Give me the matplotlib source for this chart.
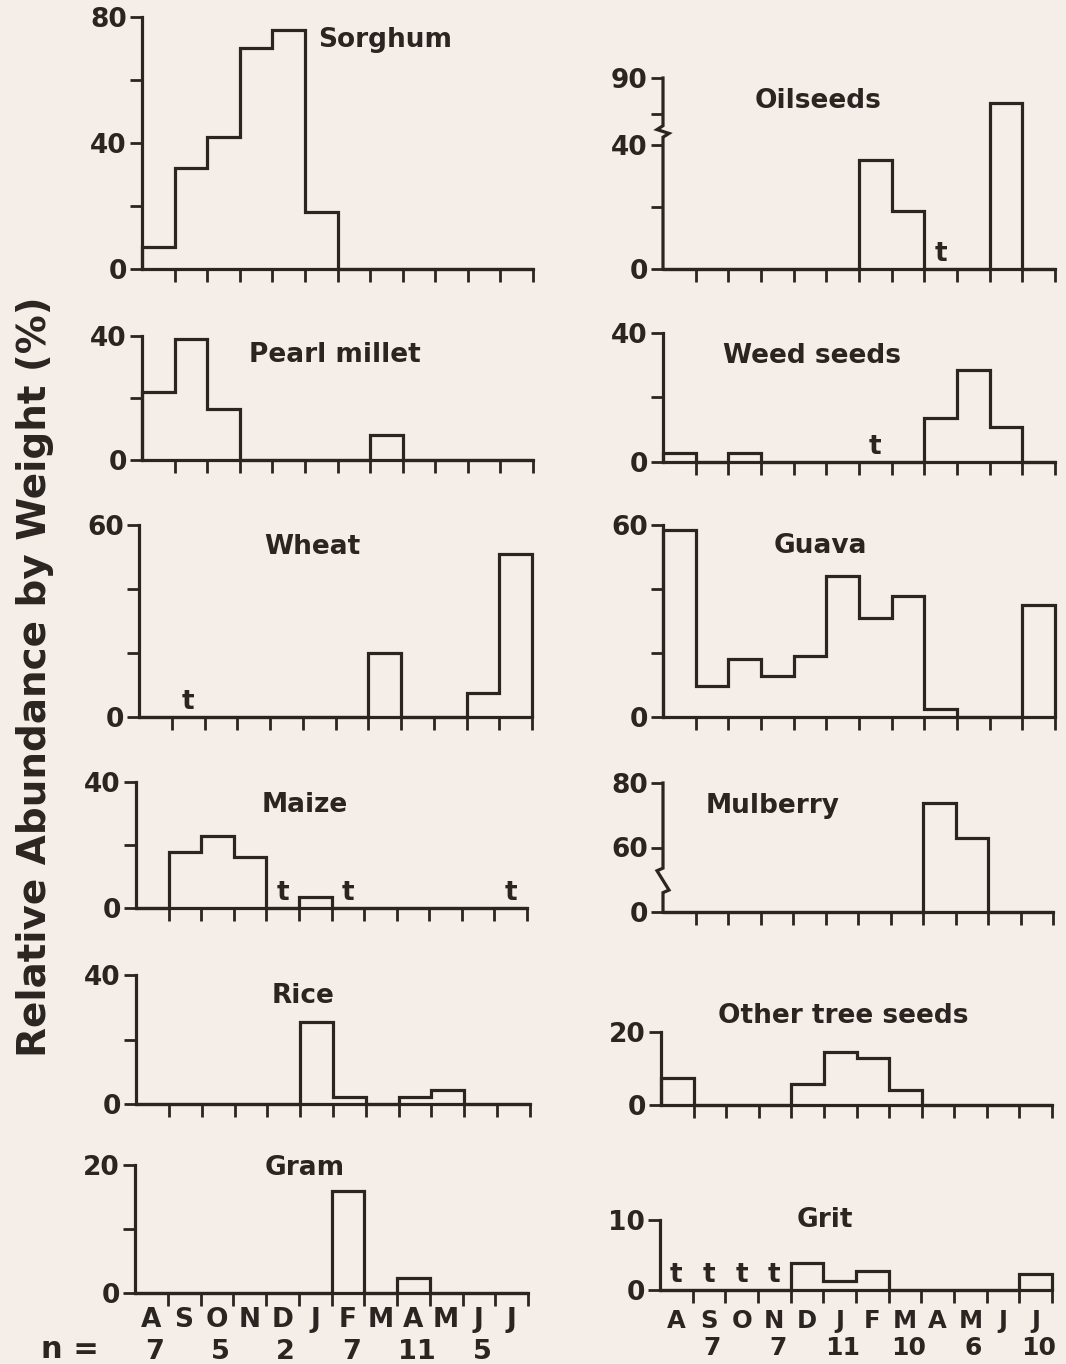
import numpy as np
import matplotlib.pyplot as plt
from matplotlib.transforms import offset_copy

W, H = 1066, 1364
BG = "#f4ede8"
INK = "#2b2522"

plt.rcParams["font.family"] = ["DejaVu Sans"]
plt.rcParams["font.weight"] = "bold"

# months from August to July
months = ["A", "S", "O", "N", "D", "J", "F", "M", "A", "M", "J", "J"]
n_left_pos = [0, 2, 4, 6, 8, 10]
n_left = ["7", "5", "2", "7", "11", "5"]
n_right_pos = [1, 3, 5, 7, 9, 11]
n_right = ["7", "7", "11", "10", "6", "10"]

# relative abundance by weight (%), one value per month
sorghum = [7, 32, 42, 70, 76, 18, 0, 0, 0, 0, 0, 0]
pearl_millet = [22, 39, 16.5, 0, 0, 0, 0, 8, 0, 0, 0, 0]
wheat = [0, 0, 0, 0, 0, 0, 0, 20, 0, 0, 7.5, 51]
maize = [0, 17.8, 22.9, 16.2, 0, 3.5, 0, 0, 0, 0, 0, 0]
rice = [0, 0, 0, 0, 0, 25.3, 2.2, 0, 2.2, 4.4, 0, 0]
gram = [0, 0, 0, 0, 0, 0, 16, 0, 2.3, 0, 0, 0]
oilseeds = [0, 0, 0, 0, 0, 0, 35, 18.7, 0, 0, 83, 0]
weed_seeds = [2.8, 0, 2.8, 0, 0, 0, 0, 0, 13.7, 28.4, 10.9, 0]
guava = [58.4, 9.7, 18.1, 12.8, 19, 44, 31, 37.8, 2.5, 0, 0, 35]
mulberry = [0, 0, 0, 0, 0, 0, 0, 0, 73.7, 63, 0, 0]
other_tree_seeds = [7.4, 0, 0, 0, 5.8, 14.5, 12.9, 4.1, 0, 0, 0, 0]
grit = [0, 0, 0, 0, 3.9, 1.3, 2.7, 0, 0, 0, 0, 2.3]

# months with trace amounts ("t")
wheat_t = [1]
maize_t = [4, 6, 11]
oilseeds_t = [8]
weed_seeds_t = [6]
grit_t = [0, 1, 2, 3]


# broken y axes
def oil_fwd(v):
    v = np.asarray(v, float)
    return np.where(v <= 40, v, np.where(v <= 80, 40 + (v - 40) / 4, 50 + (v - 80) * 1.15))


def oil_inv(d):
    d = np.asarray(d, float)
    return np.where(d <= 40, d, np.where(d <= 50, 40 + (d - 40) * 4, 80 + (d - 50) / 1.15))


def mul_fwd(v):
    v = np.asarray(v, float)
    return np.where(v <= 60, v / 3, 20 + (v - 60))


def mul_inv(d):
    d = np.asarray(d, float)
    return np.where(d <= 20, d * 3, 60 + (d - 20))


# name, values, traces, yticks, ytick labels, scale, break (axes frac), box px (x0, x1, ytop, ybot), title px
panels = [
    ("Sorghum", sorghum, [], [0, 20, 40, 60, 80], ["0", "", "40", "", "80"], None, None,
     (142, 533, 17, 269), (385, 40)),
    ("Pearl millet", pearl_millet, [], [0, 20, 40], ["0", "", "40"], None, None,
     (142, 533, 336, 460), (335, 355)),
    ("Wheat", wheat, wheat_t, [0, 20, 40, 60], ["0", "", "", "60"], None, None,
     (139, 532, 525, 717), (312, 547)),
    ("Maize", maize, maize_t, [0, 20, 40], ["0", "", "40"], None, None,
     (136, 527, 782, 908), (305, 805)),
    ("Rice", rice, [], [0, 20, 40], ["0", "", "40"], None, None,
     (136, 530, 975, 1104), (303, 996)),
    ("Gram", gram, [], [0, 10, 20], ["0", "", "20"], None, None,
     (135, 528, 1165, 1293), (305, 1168)),
    ("Oilseeds", oilseeds, oilseeds_t, [0, 20, 40, 80, 90], ["0", "", "40", "", "90"],
     (oil_fwd, oil_inv), (0.69, 0.75), (663, 1055, 78, 269), (818, 101)),
    ("Weed seeds", weed_seeds, weed_seeds_t, [0, 20, 40], ["0", "", "40"], None, None,
     (663, 1055, 333, 462), (812, 356)),
    ("Guava", guava, [], [0, 20, 40, 60], ["0", "", "", "60"], None, None,
     (663, 1055, 525, 717), (820, 546)),
    ("Mulberry", mulberry, [], [0, 60, 80], ["0", "60", "80"],
     (mul_fwd, mul_inv), (0.15, 0.34), (663, 1053, 783, 912), (773, 806)),
    ("Other tree seeds", other_tree_seeds, [], [0, 20], ["0", "20"], None, None,
     (661, 1052, 1032, 1105), (843, 1016)),
    ("Grit", grit, grit_t, [0, 10], ["0", "10"], None, None,
     (660, 1052, 1220, 1290), (825, 1220)),
]

fig = plt.figure(figsize=(W / 100, H / 100), dpi=100, facecolor=BG)
edges = np.arange(13)

for i, (name, vals, traces, yt, ytl, scale, brk, (x0, x1, yt_px, yb_px), (tx, ty)) in enumerate(panels):
    ax = fig.add_axes([x0 / W, 1 - yb_px / H, (x1 - x0) / W, (yb_px - yt_px) / H])
    ax.set_facecolor("none")
    if scale is not None:
        ax.set_yscale("function", functions=scale)
    ax.stairs(vals, edges, baseline=0, color=INK, lw=2.3, clip_on=False, zorder=3)
    ax.set_xlim(0, 12)
    ax.set_ylim(yt[0], yt[-1])
    ax.set_yticks(yt)
    ax.set_yticklabels(ytl)
    ax.set_xticks(range(1, 13))
    ax.set_xticklabels([])
    ax.tick_params(axis="both", direction="out", length=9, width=2, color=INK,
                   labelcolor=INK, labelsize=19, pad=2)
    ax.yaxis.set_minor_locator(plt.NullLocator())
    for s in ("top", "right"):
        ax.spines[s].set_visible(False)
    ax.spines["bottom"].set_linewidth(2.3)
    ax.spines["bottom"].set_color(INK)
    ax.spines["left"].set_linewidth(2.3)
    ax.spines["left"].set_color(INK)
    if brk is not None:
        ax.spines["left"].set_visible(False)
        dx = 6 / (x1 - x0)
        f1, f2 = brk
        ax.plot([0, 0, dx, -dx, 0, 0], [0, f1, f1 + 0.02, f2 - 0.02, f2, 1],
                transform=ax.transAxes, color=INK, lw=2.3, clip_on=False,
                solid_joinstyle="miter")

    # trace amounts
    t_tr = offset_copy(ax.get_xaxis_transform(), fig=fig, y=15, units="dots")
    for m in traces:
        ax.text(m + 0.5, 0, "t", transform=t_tr, ha="center", va="center",
                fontsize=19, color=INK)

    fig.text(tx / W, 1 - ty / H, name, ha="center", va="center", fontsize=19, color=INK)

    # month row and sample sizes under the bottom panels
    if i in (5, 11):
        left = i == 5
        m_tr = offset_copy(ax.get_xaxis_transform(), fig=fig,
                           y=-(27 if left else 31), units="dots")
        n_tr = offset_copy(ax.get_xaxis_transform(), fig=fig,
                           y=-(59 if left else 58), units="dots")
        fs = 19 if left else 17.5
        for k, m in enumerate(months):
            ax.text(k + 0.5, 0, m, transform=m_tr, ha="center", va="center",
                    fontsize=fs, color=INK)
        pos, nv = (n_left_pos, n_left) if left else (n_right_pos, n_right)
        for k, n in zip(pos, nv):
            ax.text(k + 0.6, 0, n, transform=n_tr, ha="center", va="center",
                    fontsize=fs + 0.5, color=INK)

fig.text(70 / W, 1 - 1350 / H, "n =", ha="center", va="center", fontsize=22, color=INK)
fig.text(35 / W, 1 - 677 / H, "Relative Abundance by Weight (%)", rotation=90,
         ha="center", va="center", fontsize=28, color=INK)

fig.savefig("out.png", dpi=100, facecolor=BG)
